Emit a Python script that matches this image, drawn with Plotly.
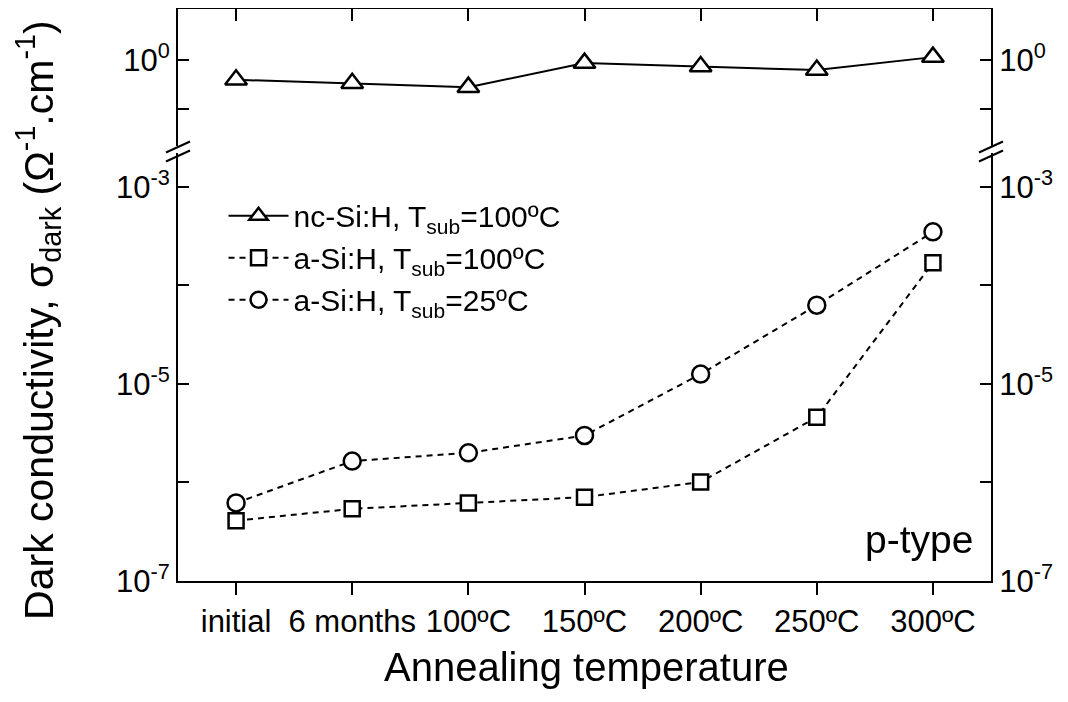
import plotly.graph_objects as go

categories = ["initial", "6 months", "100ºC", "150ºC", "200ºC", "250ºC", "300ºC"]

nc_si_100 = [0.63, 0.58, 0.53, 0.93, 0.86, 0.79, 1.07]
a_si_100 = [4.1e-7, 5.4e-7, 6.2e-7, 7.1e-7, 1.01e-6, 4.6e-6, 1.7e-4]
a_si_25 = [6.2e-7, 1.65e-6, 2.0e-6, 3.0e-6, 1.26e-5, 6.3e-5, 3.5e-4]

low_ticks = [1e-7, 1e-6, 1e-5, 1e-4, 1e-3]
low_labels = ["10<sup>-7</sup>", "", "10<sup>-5</sup>", "", "10<sup>-3</sup>"]
high_ticks = [10 ** -0.5, 1]
high_labels = ["", "10<sup>0</sup>"]

FONT = "Liberation Sans, Arial, sans-serif"

fig = go.Figure()

fig.add_trace(go.Scatter(
    x=categories, y=nc_si_100, xaxis="x2", yaxis="y2",
    mode="lines+markers", name="nc-Si:H, T<sub>sub</sub>=100ºC",
    line=dict(color="black", width=2),
    marker=dict(symbol="triangle-up", size=19, color="white",
                line=dict(color="black", width=2.5)),
))
fig.add_trace(go.Scatter(
    x=categories, y=a_si_100,
    mode="lines+markers", name="a-Si:H, T<sub>sub</sub>=100ºC",
    line=dict(color="black", width=2, dash="6px,5px"),
    marker=dict(symbol="square", size=15, color="white",
                line=dict(color="black", width=2.5)),
))
fig.add_trace(go.Scatter(
    x=categories, y=a_si_25,
    mode="lines+markers", name="a-Si:H, T<sub>sub</sub>=25ºC",
    line=dict(color="black", width=2, dash="6px,5px"),
    marker=dict(symbol="circle", size=17, color="white",
                line=dict(color="black", width=2.5)),
))

# invisible copies so the right-hand axes get drawn
fig.add_trace(go.Scatter(x=categories, y=a_si_25, yaxis="y3", opacity=0,
                         showlegend=False, hoverinfo="skip", mode="markers"))
fig.add_trace(go.Scatter(x=categories, y=nc_si_100, xaxis="x2", yaxis="y4", opacity=0,
                         showlegend=False, hoverinfo="skip", mode="markers"))

low_dom = [0, 0.7483]
high_dom = [0.7605, 1]
low_rng = [-7, -2.655]
high_rng = [-0.873, 0.518]

axis_common = dict(showline=True, linecolor="black", linewidth=2, showgrid=False,
                   zeroline=False, tickcolor="black", tickwidth=2,
                   tickfont=dict(family=FONT, size=31, color="black"))

fig.update_layout(
    width=1060, height=694,
    margin=dict(l=170, r=77, t=1, b=121),
    paper_bgcolor="white", plot_bgcolor="white",
    font=dict(family=FONT, color="black"),
    xaxis=dict(type="category", range=[-0.5, 6.5], anchor="y", ticks="outside",
               ticklen=12, ticklabelstandoff=0, **axis_common),
    xaxis2=dict(type="category", range=[-0.5, 6.5], anchor="y2", side="top",
                matches="x", ticks="inside", ticklen=12, showticklabels=False,
                **axis_common),
    yaxis=dict(type="log", domain=low_dom, range=low_rng, anchor="x",
               tickvals=low_ticks, ticktext=low_labels, ticks="inside",
               ticklen=11, **axis_common),
    yaxis3=dict(type="log", domain=low_dom, range=low_rng, overlaying="y",
                anchor="x", side="right", tickvals=low_ticks, ticktext=low_labels,
                ticks="inside", ticklen=11, **axis_common),
    yaxis2=dict(type="log", domain=high_dom, range=high_rng, anchor="x2",
                tickvals=high_ticks, ticktext=high_labels, ticks="inside",
                ticklen=11, **axis_common),
    yaxis4=dict(type="log", domain=high_dom, range=high_rng, overlaying="y2",
                anchor="x2", side="right", tickvals=high_ticks, ticktext=high_labels,
                ticks="inside", ticklen=11, **axis_common),
    showlegend=True,
    legend=dict(x=0.056, y=0.684, xanchor="left", yanchor="top",
                bgcolor="rgba(0,0,0,0)", itemwidth=60,
                font=dict(family=FONT, size=30, color="black")),
)

# axis break marks
for xp in (0, 1):
    for yp in (0.743, 0.7587):
        fig.add_shape(type="line", xref="paper", yref="paper",
                      x0=xp - 0.0148, x1=xp + 0.0148, y0=yp - 0.0096, y1=yp + 0.0096,
                      line=dict(color="black", width=2))

fig.add_annotation(text="p-type", xref="paper", yref="paper", x=0.980, y=0.0717,
                   xanchor="right", yanchor="middle", showarrow=False,
                   font=dict(family=FONT, size=39, color="black"))
fig.add_annotation(text="Annealing temperature", xref="paper", yref="paper",
                   x=0.502, y=-0.150, xanchor="center", yanchor="middle", showarrow=False,
                   font=dict(family=FONT, size=40, color="black"))
fig.add_annotation(text="Dark conductivity, σ<sub>dark</sub> (Ω<sup>-1</sup>.cm<sup>-1</sup>)",
                   xref="paper", yref="paper", x=-0.172, y=0.455, textangle=-90,
                   xanchor="center", yanchor="middle", showarrow=False,
                   font=dict(family=FONT, size=41, color="black"))

fig.write_html("out.html")
